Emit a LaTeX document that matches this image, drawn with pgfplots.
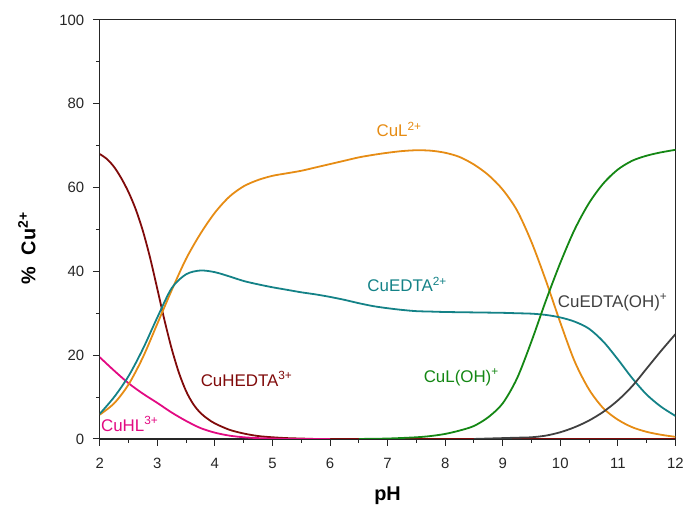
\documentclass[border=0pt]{standalone}
\usepackage{fontspec}
\setmainfont{Liberation Sans}
\usepackage{pgfplots}
\pgfplotsset{compat=1.18}
\definecolor{cred}{RGB}{128,10,10}
\definecolor{cmag}{RGB}{226,10,130}
\definecolor{corg}{RGB}{230,140,20}
\definecolor{cteal}{RGB}{20,130,135}
\definecolor{cgreen}{RGB}{20,135,20}
\definecolor{cgray}{RGB}{64,64,64}
\begin{document}
\begin{tikzpicture}
\begin{axis}[
  name=main,
  scale only axis, width=577bp, height=420bp,
  xmin=2, xmax=12, ymin=0, ymax=100,
  xtick={2,3,...,12}, ytick={0,20,...,100},
  minor x tick num=1, minor y tick num=1,
  xtick pos=bottom, ytick pos=left,
  tick align=outside,
  major tick length=7bp, minor tick length=4bp,
  axis line style={black!85, line width=1.1bp},
  every tick/.style={black!85, line width=1bp},
  /pgf/number format/assume math mode=true,
  tick label style={font=\fontsize{15}{17}\selectfont, text=black!85},
  xticklabel style={yshift=-9bp},
  yticklabel style={xshift=-5bp},
  xlabel={\textbf{pH}}, ylabel={\textbf{\%\hspace{0.3em} Cu\textsuperscript{2+}}},
  xlabel style={font=\fontsize{20}{22}\selectfont, at={(axis description cs:0.5,-0.1357)}, anchor=center},
  ylabel style={font=\fontsize{20}{22}\selectfont, at={(axis description cs:-0.1265,0.455)}, anchor=center},
  every axis plot/.append style={smooth, line width=1.8bp, no markers},
  clip=true,
]
% CuHEDTA3+
\addplot[cred] coordinates {(2,68) (2.125,66.8) (2.25,64.9) (2.375,62.2) (2.5,58.9) (2.625,54.8) (2.75,49.6) (2.875,43.2) (3,35.8) (3.125,28.3) (3.25,21.5) (3.375,15.8) (3.5,11.4) (3.625,8.3) (3.75,6.2) (3.875,4.8) (4,3.7) (4.25,2.2) (4.5,1.3) (4.75,0.7) (5,0.4) (5.25,0.2) (5.5,0.1) (5.75,0) (6,0) (6.5,0) (12,0)};
% CuHL3+
\addplot[cmag] coordinates {(2,19.5) (2.25,16.3) (2.5,13.3) (2.75,10.8) (3,8.6) (3.25,6.3) (3.5,4.3) (3.75,2.6) (4,1.5) (4.25,0.8) (4.5,0.4) (4.75,0.2) (5,0.1) (5.25,0) (5.5,0) (6,0)};
% CuL2+
\addplot[corg] coordinates {(2,5.8) (2.25,8.5) (2.5,13) (2.75,19.5) (3,27.5) (3.25,35.5) (3.5,43) (3.75,49) (4,54) (4.25,57.8) (4.5,60.3) (4.75,61.8) (5,62.8) (5.25,63.4) (5.5,64) (5.75,64.8) (6,65.6) (6.25,66.4) (6.5,67.2) (6.75,67.8) (7,68.3) (7.25,68.7) (7.5,68.9) (7.75,68.8) (8,68.3) (8.25,67.3) (8.5,65.5) (8.75,63) (9,59.5) (9.25,54.5) (9.5,47) (9.75,37.8) (10,27.8) (10.25,18.5) (10.5,11.8) (10.75,7.3) (11,4.6) (11.25,2.8) (11.5,1.7) (11.75,1) (12,0.5)};
% CuEDTA2+
\addplot[cteal] coordinates {(2,6) (2.25,10) (2.5,15) (2.75,21.5) (3,29) (3.25,36) (3.5,39.3) (3.75,40.2) (4,39.8) (4.25,38.8) (4.5,37.7) (4.75,36.9) (5,36.2) (5.25,35.6) (5.5,35) (5.75,34.5) (6,33.9) (6.25,33.2) (6.5,32.4) (6.75,31.7) (7,31.2) (7.25,30.8) (7.5,30.5) (7.75,30.4) (8,30.3) (8.5,30.2) (9,30.1) (9.25,30) (9.5,29.9) (9.75,29.6) (10,29) (10.25,28) (10.5,26.3) (10.75,23.2) (11,19) (11.25,14.5) (11.5,10.6) (11.75,7.7) (12,5.5)};
% CuL(OH)+
\addplot[cgreen] coordinates {(6.5,0) (7,0.1) (7.5,0.4) (7.75,0.7) (8,1.2) (8.25,2) (8.5,3.1) (8.75,5.2) (9,8.5) (9.25,14.5) (9.5,23.3) (9.75,33) (10,42) (10.25,50) (10.5,56.3) (10.75,61) (11,64.3) (11.25,66.4) (11.5,67.6) (11.75,68.4) (12,69)};
% CuEDTA(OH)+
\addplot[cgray] coordinates {(8.5,0) (9,0.2) (9.25,0.3) (9.5,0.4) (9.75,0.8) (10,1.6) (10.25,2.8) (10.5,4.4) (10.75,6.5) (11,9.2) (11.25,12.6) (11.5,16.8) (11.75,21) (12,25)};
\begin{scope}[every node/.style={font=\fontsize{17}{19}\selectfont}]
\node[text=corg] at (axis cs:7.2,73.8) {CuL\textsuperscript{2+}};
\node[text=cteal] at (axis cs:7.34,36.9) {CuEDTA\textsuperscript{2+}};
\node[text=cgray] at (axis cs:10.91,32.6) {CuEDTA(OH)\textsuperscript{+}};
\node[text=cgreen] at (axis cs:8.28,14.7) {CuL(OH)\textsuperscript{+}};
\node[text=cred] at (axis cs:4.55,14.3) {CuHEDTA\textsuperscript{3+}};
\node[text=cmag] at (axis cs:2.52,3.6) {CuHL\textsuperscript{3+}};
\end{scope}
\end{axis}
\path[use as bounding box] (main.south west) ++(-100bp,-69bp) rectangle ++(687bp,509bp);
\end{tikzpicture}
\end{document}
